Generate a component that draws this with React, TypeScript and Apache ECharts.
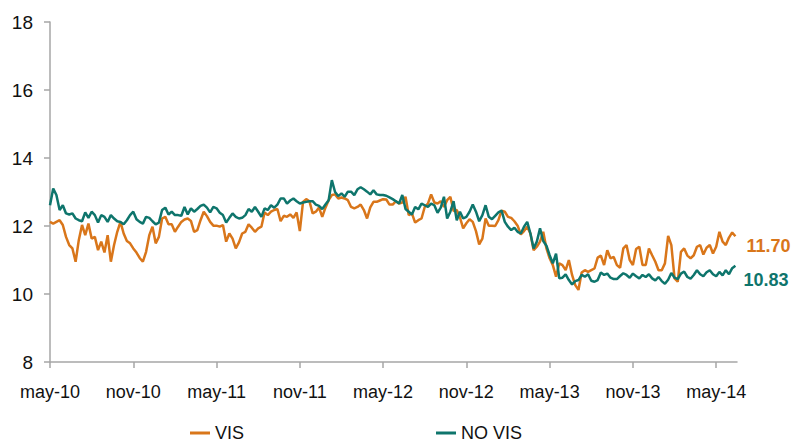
import React, { useEffect, useRef } from "react";
import * as echarts from "echarts";

// Weekly observations starting May 2010 (week index -> months since May 2010)
const xTickLabels = ["may-10", "nov-10", "may-11", "nov-11", "may-12", "nov-12", "may-13", "nov-13", "may-14"];
const yTicks = [8, 10, 12, 14, 16, 18];
const seriesNames = ["VIS", "NO VIS"];

const vis = [
  12.12, 12.07, 12.12, 12.17, 12.03, 11.68, 11.44, 11.34, 10.95, 11.59, 12.03, 11.73, 12.07, 11.63, 11.68, 11.29, 11.54, 11.22, 11.73, 10.95, 11.44, 11.83, 12.12, 11.78, 11.56, 11.49, 11.34, 11.22, 11.06, 10.95, 11.24, 11.73, 11.98, 11.49, 11.68, 12.22, 12.27,
  12.05, 12.05, 11.83, 11.98, 12.12, 12.19, 12.22, 12.15, 11.83, 11.88, 12.17, 12.42, 12.29, 12.12, 12.01, 12.01, 11.98, 12.03, 11.54, 11.78, 11.63, 11.34, 11.52, 11.78, 11.83, 12.05, 11.95, 11.83, 11.93, 11.98, 12.40, 12.32, 12.42, 12.47, 12.50, 12.14,
  12.30, 12.27, 12.34, 12.24, 12.40, 11.85, 12.71, 12.79, 12.73, 12.37, 12.42, 12.54, 12.27, 12.54, 12.76, 12.91, 12.93, 12.81, 12.84, 12.81, 12.76, 12.56, 12.52, 12.56, 12.63, 12.47, 12.22, 12.55, 12.71, 12.71, 12.75, 12.79, 12.78, 12.63, 12.63, 12.73,
  12.66, 12.69, 12.86, 12.32, 12.37, 12.10, 12.17, 12.22, 12.56, 12.66, 12.93, 12.69, 12.66, 12.73, 12.56, 12.76, 12.86, 12.44, 12.47, 12.25, 11.93, 12.08, 12.20, 12.12, 11.85, 11.46, 11.63, 12.22, 12.01, 12.01, 12.00, 12.17, 12.45, 12.42, 12.27,
  12.24, 12.14, 12.01, 11.75, 11.85, 11.98, 11.78, 11.29, 11.39, 11.54, 11.83, 11.34, 11.05, 10.85, 10.51, 10.90, 10.85, 10.70, 11.00, 10.56, 10.26, 10.12, 10.63, 10.70, 10.65, 10.70, 10.75, 11.07, 11.13, 10.85, 11.29, 11.05, 11.09, 10.85, 10.77, 11.34,
  11.44, 11.00, 10.85, 11.32, 11.39, 10.85, 10.85, 11.34, 11.14, 10.95, 10.70, 10.70, 10.90, 11.71, 11.44, 10.46, 10.36, 11.24, 11.34, 11.13, 11.05, 11.14, 11.39, 11.44, 11.16, 11.36, 11.44, 11.19, 11.39, 11.83, 11.54, 11.44, 11.66, 11.81, 11.70,
];

const noVis = [
  12.61, 13.10, 12.91, 12.47, 12.61, 12.37, 12.34, 12.37, 12.22, 12.17, 12.14, 12.40, 12.24, 12.42, 12.32, 12.10, 12.32, 12.27, 12.12, 12.32, 12.22, 12.14, 12.12, 12.05, 12.17, 12.32, 12.42, 12.20, 12.12, 12.07, 12.27, 12.24, 12.14, 12.05, 12.10, 12.47, 12.54,
  12.34, 12.42, 12.32, 12.32, 12.30, 12.56, 12.34, 12.52, 12.42, 12.50, 12.59, 12.63, 12.54, 12.40, 12.56, 12.52, 12.39, 12.32, 12.10, 12.24, 12.37, 12.27, 12.22, 12.24, 12.32, 12.50, 12.42, 12.56, 12.42, 12.27, 12.52, 12.47, 12.61, 12.54, 12.63, 12.81,
  12.81, 12.66, 12.75, 12.81, 12.73, 12.66, 12.69, 12.71, 12.73, 12.73, 12.63, 12.59, 12.50, 12.63, 12.76, 13.35, 13.00, 12.88, 12.96, 12.86, 13.01, 13.01, 12.91, 13.08, 13.14, 13.08, 13.01, 12.93, 13.05, 12.93, 12.91, 12.91, 12.89, 12.84, 12.79, 12.73,
  12.66, 12.91, 12.50, 12.42, 12.34, 12.56, 12.49, 12.66, 12.61, 12.56, 12.66, 12.61, 12.39, 12.54, 12.86, 12.22, 12.42, 12.73, 12.17, 12.42, 12.22, 12.27, 12.42, 12.63, 12.42, 12.14, 12.32, 12.61, 12.27, 12.20, 12.30, 12.40, 12.45, 12.12, 11.98,
  11.88, 11.95, 11.83, 11.78, 11.98, 12.12, 11.78, 11.34, 11.54, 11.93, 11.56, 11.42, 11.14, 10.90, 11.19, 10.46, 10.48, 10.58, 10.41, 10.28, 10.38, 10.41, 10.56, 10.51, 10.58, 10.39, 10.36, 10.41, 10.63, 10.56, 10.60, 10.48, 10.44, 10.44, 10.53, 10.61,
  10.56, 10.48, 10.60, 10.52, 10.46, 10.56, 10.50, 10.58, 10.46, 10.40, 10.50, 10.38, 10.30, 10.42, 10.62, 10.48, 10.44, 10.60, 10.66, 10.50, 10.45, 10.56, 10.70, 10.58, 10.52, 10.64, 10.70, 10.58, 10.52, 10.65, 10.55, 10.70, 10.58, 10.76, 10.83,
];

const ORANGE = "#D9761A";
const TEAL = "#0E756C";
const FONT = "'Liberation Sans', Arial, sans-serif";

const toPairs = (vals: number[]) => vals.map((v, i) => [(i * 12) / 52, v]);

export default function App() {
  const ref = useRef<HTMLDivElement>(null);
  useEffect(() => {
    if (!ref.current) return;
    const chart = echarts.init(ref.current, null, { renderer: "svg" });
    const tickVals = xTickLabels.map((_, i) => i * 6);
    chart.setOption({
      animation: false,
      backgroundColor: "#ffffff",
      textStyle: { fontFamily: FONT },
      grid: { left: 50, right: 56, top: 22, bottom: 81, containLabel: false },
      legend: {
        data: seriesNames,
        left: 190,
        top: 424,
        padding: 0,
        icon: "rect",
        itemWidth: 20,
        itemHeight: 3,
        itemGap: 192,
        textStyle: { fontSize: 18, color: "#111", fontFamily: FONT, lineHeight: 18 },
      },
      xAxis: {
        type: "value",
        min: 0,
        max: 49.5,
        interval: 6,
        axisLine: { show: true, lineStyle: { color: "#A6A6A6", width: 1.5 } },
        axisTick: { show: true, length: 6, customValues: tickVals, lineStyle: { color: "#A6A6A6", width: 1.5 } },
        axisLabel: {
          customValues: tickVals,
          formatter: (v: number) => xTickLabels[Math.round(v / 6)] ?? "",
          fontSize: 18,
          color: "#111",
          margin: 21,
          fontFamily: FONT,
        },
        splitLine: { show: false },
      },
      yAxis: {
        type: "value",
        min: yTicks[0],
        max: yTicks[yTicks.length - 1],
        interval: 2,
        axisLine: { show: true, lineStyle: { color: "#A6A6A6", width: 1.5 } },
        axisTick: { show: true, length: 6, lineStyle: { color: "#A6A6A6", width: 1.5 } },
        axisLabel: { fontSize: 19, color: "#111", margin: 17, fontFamily: FONT },
        splitLine: { show: false },
      },
      series: [
        {
          name: seriesNames[0],
          type: "line",
          data: toPairs(vis),
          showSymbol: false,
          lineStyle: { color: ORANGE, width: 2.5 },
          itemStyle: { color: ORANGE },
          endLabel: {
            show: true,
            formatter: (p: any) => Number(p.value[1]).toFixed(2),
            color: ORANGE,
            fontWeight: "bold",
            fontSize: 18,
            fontFamily: FONT,
            offset: [3, 10],
          },
        },
        {
          name: seriesNames[1],
          type: "line",
          data: toPairs(noVis),
          showSymbol: false,
          lineStyle: { color: TEAL, width: 2.5 },
          itemStyle: { color: TEAL },
          endLabel: {
            show: true,
            formatter: (p: any) => Number(p.value[1]).toFixed(2),
            color: TEAL,
            fontWeight: "bold",
            fontSize: 18,
            fontFamily: FONT,
            offset: [0, 14],
          },
        },
      ],
    });
    return () => chart.dispose();
  }, []);
  return <div ref={ref} style={{ position: "fixed", left: 0, top: 0, width: 793, height: 443 }} />;
}
